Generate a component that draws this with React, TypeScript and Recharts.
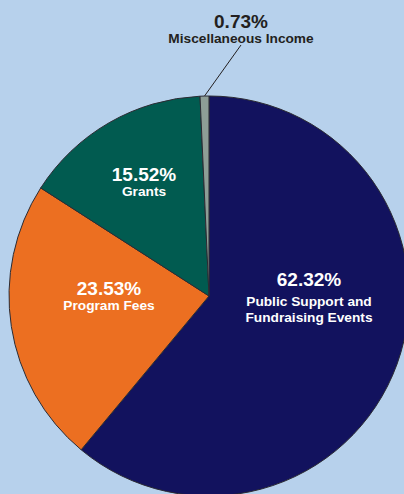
import React from 'react';
import { PieChart, Pie, Cell } from 'recharts';

const names = ['Public Support and Fundraising Events', 'Program Fees', 'Grants', 'Miscellaneous Income'];
const values = [62.32, 23.53, 15.52, 0.73];
const labelLines = [['Public Support and', 'Fundraising Events'], ['Program Fees'], ['Grants'], ['Miscellaneous Income']];
const colors = ['#12125e', '#ec6f21', '#015b50', '#8e9e96'];

const data = names.map((name, i) => ({ name, value: values[i], lines: labelLines[i] }));

// label anchor offsets from pie centre (percentage baseline) and gap to first name line
const labelPos = [
  { dx: 100, dy: -10, gap: 20 },
  { dx: -100, dy: -1.5, gap: 15 },
  { dx: -65, dy: -115, gap: 15 },
  { dx: 32, dy: -268, gap: 15 },
];

const font = '"Liberation Sans", Arial, Helvetica, sans-serif';

function renderLabel(props: any) {
  const { cx, cy, index, midAngle, outerRadius, payload } = props;
  const p = labelPos[index];
  const x = cx + p.dx;
  const y = cy + p.dy;
  const outside = index === 3;
  const fill = outside ? '#231f20' : '#ffffff';
  const rad = (Math.PI / 180) * midAngle;
  return (
    <g key={`lbl-${index}`}>
      {outside && (
        <line
          x1={cx + Math.cos(rad) * outerRadius}
          y1={cy - Math.sin(rad) * outerRadius}
          x2={x}
          y2={y + 17}
          stroke="#231f20"
          strokeWidth={1}
        />
      )}
      <text x={x} y={y} textAnchor="middle" fill={fill} fontFamily={font} fontWeight="bold" fontSize={19}>
        {payload.value.toFixed(2)}%
      </text>
      {payload.lines.map((ln: string, i: number) => (
        <text
          key={i}
          x={x}
          y={y + p.gap + i * 16}
          textAnchor="middle"
          fill={fill}
          fontFamily={font}
          fontWeight="bold"
          fontSize={13.7}
        >
          {ln}
        </text>
      ))}
    </g>
  );
}

export default function App() {
  return (
    <div style={{ position: 'absolute', left: 0, top: 0, width: 404, height: 494, background: '#b7d1ec', overflow: 'hidden' }}>
      <PieChart width={404} height={494} margin={{ top: 0, right: 0, bottom: 0, left: 0 }}>
        <Pie
          data={data}
          dataKey="value"
          nameKey="name"
          cx={209}
          cy={296}
          outerRadius={200}
          startAngle={90}
          endAngle={-270}
          stroke="#2b2b33"
          strokeWidth={1}
          label={renderLabel}
          labelLine={false}
          isAnimationActive={false}
        >
          {data.map((d, i) => (
            <Cell key={d.name} fill={colors[i]} />
          ))}
        </Pie>
      </PieChart>
    </div>
  );
}
